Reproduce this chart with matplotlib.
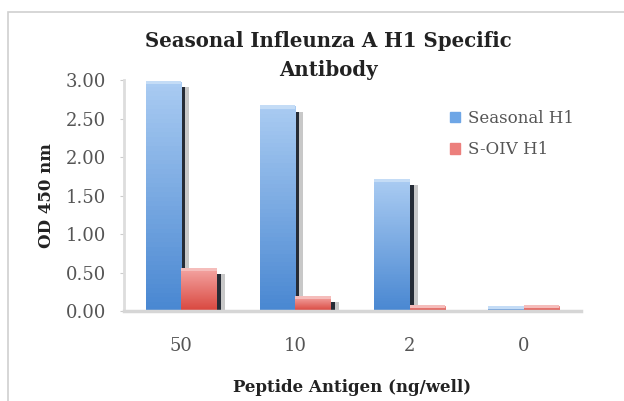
import numpy as np
import matplotlib.pyplot as plt
from matplotlib.patches import Rectangle
from matplotlib.colors import LinearSegmentedColormap

categories = ["50", "10", "2", "0"]
seasonal_h1 = [2.97, 2.65, 1.70, 0.05]
soiv_h1 = [0.54, 0.18, 0.06, 0.06]

plt.rcParams["font.family"] = ["DejaVu Serif"]

fig = plt.figure(figsize=(6.24, 4.01), dpi=100)
# outer chart frame
fig.patches.append(Rectangle((0.013, -0.01), 1.0, 0.98, transform=fig.transFigure,
                             fill=False, edgecolor="#d0d0d0", linewidth=1.2))

ax = fig.add_axes([0.199, 0.2244, 0.732, 0.576])
x = np.arange(len(categories))
w = 0.31
side = 0.035

blue_cm = LinearSegmentedColormap.from_list("b", ["#4a88d2", "#a9cbf2"])
red_cm = LinearSegmentedColormap.from_list("r", ["#d9473f", "#f3a3a0"])

for vals, cm, top, off in [(seasonal_h1, blue_cm, "#c4dcf6", -w / 2),
                           (soiv_h1, red_cm, "#f5bdbb", w / 2)]:
    bars = ax.bar(x + off, vals, w, color="none", edgecolor="none", zorder=2)
    for b in bars:
        x0, y0, bw, bh = b.get_x(), b.get_y(), b.get_width(), b.get_height()
        ax.imshow(np.linspace(0, 1, 50).reshape(-1, 1), cmap=cm, origin="lower",
                  extent=[x0, x0 + bw, y0, y0 + bh], aspect="auto", zorder=2)
    # lighter top face
    ax.bar(x + off, [0.04] * len(vals), w, bottom=np.array(vals) - 0.02,
           color=top, edgecolor="none", zorder=3)
    # dark side face + soft shadow (3D look), only where the bar is tall enough
    sv = [v - 0.06 if v > 0.1 else 0 for v in vals]
    ax.bar(x + off + w / 2 + side / 2, sv, side, color="#262c36", edgecolor="none", zorder=1)
    ax.bar(x + off + w / 2 + side * 1.5, sv, side, color="#c8c8c8", edgecolor="none", zorder=1)

ax.set_xlim(-0.5, 3.5)
ax.set_ylim(0, 3.0)
ax.set_yticks(np.arange(0, 3.01, 0.5))
ax.set_yticklabels([f"{v:.2f}" for v in np.arange(0, 3.01, 0.5)])
ax.set_xticks(x)
ax.set_xticklabels(categories)
ax.tick_params(axis="x", length=0, pad=19, labelsize=13, labelcolor="#555555")
ax.tick_params(axis="y", length=3, color="#cccccc", labelsize=13, labelcolor="#555555", pad=10)

for s in ["top", "right"]:
    ax.spines[s].set_visible(False)
ax.spines["left"].set_color("#dddddd")
ax.spines["left"].set_linewidth(2)
ax.spines["bottom"].set_color("#d6d6d6")
ax.spines["bottom"].set_linewidth(2.5)

ax.set_ylabel("OD 450 nm", fontsize=12, fontweight="bold", color="#222222", labelpad=8)
ax.set_xlabel("Peptide Antigen (ng/well)", fontsize=12, fontweight="bold", color="#222222",
              labelpad=17)
fig.text(0.526, 0.862, "Seasonal Infleunza A H1 Specific\nAntibody", ha="center", va="center",
         fontsize=14.2, fontweight="bold", color="#222222", linespacing=1.6)

ax.legend(["Seasonal H1", "S-OIV H1"], loc="upper left", bbox_to_anchor=(0.68, 0.935),
          frameon=False, fontsize=12, handlelength=0.6, handleheight=0.6, handletextpad=0.5,
          labelcolor="#555555", labelspacing=0.85)
handles = ax.get_legend().legend_handles
handles[0].set_color("#6ea6e6")
handles[1].set_color("#ec7f7c")

plt.savefig("out.png", dpi=100)
